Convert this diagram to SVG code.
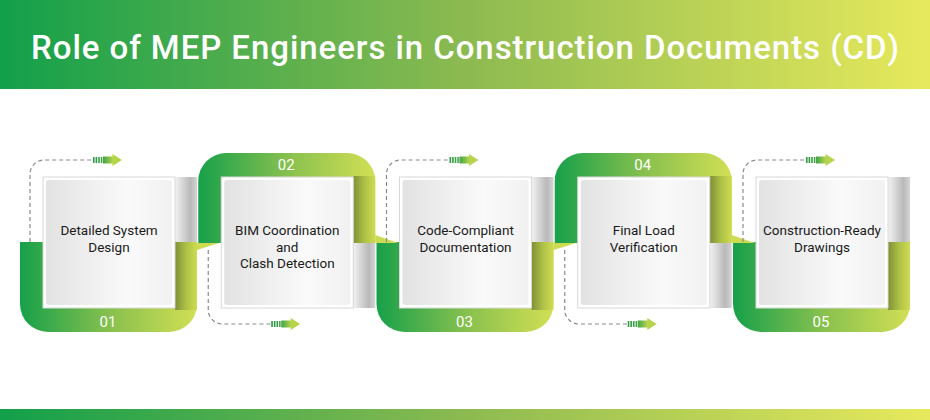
<svg xmlns="http://www.w3.org/2000/svg" width="930" height="420" viewBox="0 0 930 420">
<defs>
<linearGradient id="hdr" x1="0" y1="0" x2="1" y2="0">
<stop offset="0" stop-color="#12a04a"/><stop offset="0.5" stop-color="#8cba50"/><stop offset="1" stop-color="#e7e95c"/>
</linearGradient>
<linearGradient id="band" x1="0" y1="0" x2="1" y2="0">
<stop offset="0" stop-color="#17a04a"/><stop offset="0.5" stop-color="#86c04e"/><stop offset="1" stop-color="#d2df54"/>
</linearGradient>
<linearGradient id="olive" x1="0" y1="0" x2="1" y2="0">
<stop offset="0" stop-color="#7e9036"/><stop offset="0.5" stop-color="#adc046"/><stop offset="1" stop-color="#cfdc52"/>
</linearGradient>
<linearGradient id="gray" x1="0" y1="0" x2="1" y2="0">
<stop offset="0" stop-color="#f2f2f2"/><stop offset="0.7" stop-color="#b9b9b9"/><stop offset="1" stop-color="#d4d4d4"/>
</linearGradient>
<linearGradient id="boxg" x1="0" y1="0" x2="1" y2="0">
<stop offset="0" stop-color="#e2e2e2"/><stop offset="0.65" stop-color="#fafafa"/><stop offset="1" stop-color="#f1f1f1"/>
</linearGradient>
<linearGradient id="arrg" x1="0" y1="0" x2="1" y2="0">
<stop offset="0" stop-color="#3fa548"/><stop offset="1" stop-color="#b8d44c"/>
</linearGradient>
<g id="arr">
<rect x="0" y="-3" width="1.6" height="6" fill="#2f9b45"/>
<rect x="2.6" y="-3" width="1.6" height="6" fill="#2f9b45"/>
<rect x="5.2" y="-3" width="1.6" height="6" fill="#3aa046"/>
<rect x="7.8" y="-3" width="1.6" height="6" fill="#45a547"/>
<rect x="10" y="-3.5" width="10" height="7" fill="url(#arrg)"/>
<path d="M19.5,-6 L29,0 L19.5,6 Z" fill="#b8d44c"/>
</g>
<style>
.box{fill:#ffffff;stroke:#d8d8d8;stroke-width:1}
.boxin{fill:url(#boxg)}
.lbl{font-family:Roboto,"Liberation Sans",sans-serif;font-size:13.5px;fill:#1a1a1a;text-anchor:middle}
.num{font-family:Roboto,"Liberation Sans",sans-serif;font-size:15px;fill:#ffffff;text-anchor:middle}
.dash{fill:none;stroke:#8a8a8a;stroke-width:1.2;stroke-dasharray:4 3}
.wedge{fill:#cddb53}
</style>
</defs>

<rect x="0" y="0" width="930" height="89" fill="url(#hdr)"/>
<text x="465" y="59" font-family="Roboto,'Liberation Sans',sans-serif" font-size="33" font-weight="500" fill="#ffffff" text-anchor="middle" textLength="868" lengthAdjust="spacing">Role of MEP Engineers in Construction Documents (CD)</text>
<rect x="0" y="409" width="930" height="11" fill="url(#hdr)"/>

<!-- Node 1 -->
<g id="node1" transform="translate(20,0)">
<path d="M0,242 V304 A28,28 0 0 0 28,332 H149 A28,28 0 0 0 177,304 V242 Z" fill="url(#band)"/>
<rect x="155" y="242" width="22" height="68" fill="url(#olive)"/>
<rect x="155" y="177" width="22" height="65" fill="url(#gray)"/>
<rect class="box" x="23" y="177" width="132" height="131"/>
<rect class="boxin" x="26" y="180" width="126" height="125" rx="3"/>
<text class="lbl" x="89" y="235">Detailed System</text>
<text class="lbl" x="89" y="252">Design</text>
<text class="num" x="88" y="327">01</text>
</g>

<!-- Node 2 -->
<g id="node2" transform="translate(198.25,0)">
<path d="M0,243 V181 A28,28 0 0 1 28,153 H149 A28,28 0 0 1 177,181 V243 Z" fill="url(#band)"/>
<rect x="155" y="176" width="22" height="67" fill="url(#olive)"/>
<rect x="155" y="243" width="22" height="65" fill="url(#gray)"/>
<rect class="box" x="23" y="177" width="132" height="131"/>
<rect class="boxin" x="26" y="180" width="126" height="125" rx="3"/>
<text class="lbl" x="89" y="235">BIM Coordination</text>
<text class="lbl" x="89" y="252">and</text>
<text class="lbl" x="89" y="268">Clash Detection</text>
<text class="num" x="88" y="170">02</text>
</g>

<!-- Node 3 -->
<g id="node3" transform="translate(376.5,0)">
<path d="M0,242 V304 A28,28 0 0 0 28,332 H149 A28,28 0 0 0 177,304 V242 Z" fill="url(#band)"/>
<rect x="155" y="242" width="22" height="68" fill="url(#olive)"/>
<rect x="155" y="177" width="22" height="65" fill="url(#gray)"/>
<rect class="box" x="23" y="177" width="132" height="131"/>
<rect class="boxin" x="26" y="180" width="126" height="125" rx="3"/>
<text class="lbl" x="89" y="235">Code-Compliant</text>
<text class="lbl" x="89" y="252">Documentation</text>
<text class="num" x="88" y="327">03</text>
</g>

<!-- Node 4 -->
<g id="node4" transform="translate(554.75,0)">
<path d="M0,243 V181 A28,28 0 0 1 28,153 H149 A28,28 0 0 1 177,181 V243 Z" fill="url(#band)"/>
<rect x="155" y="176" width="22" height="67" fill="url(#olive)"/>
<rect x="155" y="243" width="22" height="65" fill="url(#gray)"/>
<rect class="box" x="23" y="177" width="132" height="131"/>
<rect class="boxin" x="26" y="180" width="126" height="125" rx="3"/>
<text class="lbl" x="89" y="235">Final Load</text>
<text class="lbl" x="89" y="252">Verification</text>
<text class="num" x="88" y="170">04</text>
</g>

<!-- Node 5 -->
<g id="node5" transform="translate(733,0)">
<path d="M0,242 V304 A28,28 0 0 0 28,332 H149 A28,28 0 0 0 177,304 V242 Z" fill="url(#band)"/>
<rect x="155" y="242" width="22" height="68" fill="url(#olive)"/>
<rect x="155" y="177" width="22" height="65" fill="url(#gray)"/>
<rect class="box" x="23" y="177" width="132" height="131"/>
<rect class="boxin" x="26" y="180" width="126" height="125" rx="3"/>
<text class="lbl" x="89" y="235">Construction-Ready</text>
<text class="lbl" x="89" y="252">Drawings</text>
<text class="num" x="88" y="327">05</text>
</g>

<!-- Connectors -->
<g id="connectors">
<path class="wedge" d="M197,243 L219,243 L197,250 Z"/>
<path class="wedge" d="M375.25,235 L375.25,243 L398,243 Z"/>
<path class="wedge" d="M553.5,243 L576,243 L553.5,250 Z"/>
<path class="wedge" d="M731.75,235 L731.75,243 L755,243 Z"/>

<path class="dash" d="M30,242 V174 A14,14 0 0 1 44,160 H93"/>
<use href="#arr" x="93" y="160"/>
<path class="dash" d="M208.25,250 V310 A14,14 0 0 0 222.25,324 H271.25"/>
<use href="#arr" x="271.25" y="324"/>
<path class="dash" d="M386.5,242 V174 A14,14 0 0 1 400.5,160 H449.5"/>
<use href="#arr" x="449.5" y="160"/>
<path class="dash" d="M564.75,250 V310 A14,14 0 0 0 578.75,324 H627.75"/>
<use href="#arr" x="627.75" y="324"/>
<path class="dash" d="M743,242 V174 A14,14 0 0 1 757,160 H806"/>
<use href="#arr" x="806" y="160"/>
</g>
</svg>
